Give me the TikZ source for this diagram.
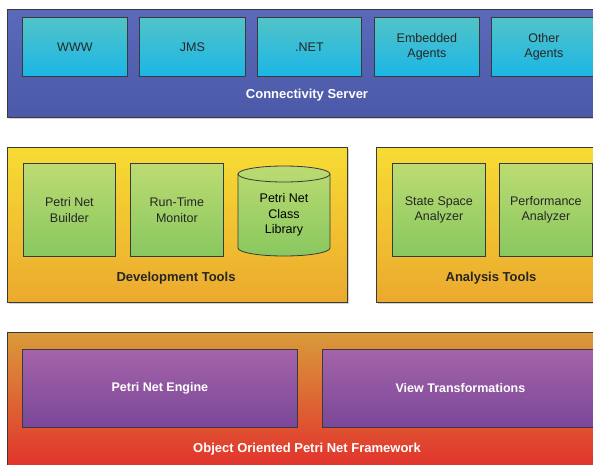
\documentclass[tikz,border=0pt]{standalone}
\usepackage{fontspec}
\setmainfont{Liberation Sans}
\usetikzlibrary{shadows}
\definecolor{bluetop}{HTML}{5A69B9}
\definecolor{bluebot}{HTML}{4B59A8}
\definecolor{cyantop}{HTML}{52C3C8}
\definecolor{cyanbot}{HTML}{1BB6E6}
\definecolor{yeltop}{HTML}{F7DC34}
\definecolor{yelbot}{HTML}{EBA92E}
\definecolor{grntop}{HTML}{BCDB72}
\definecolor{grnbot}{HTML}{88C85F}
\definecolor{redtop}{HTML}{D99B3A}
\definecolor{redbot}{HTML}{E22E2C}
\definecolor{purtop}{HTML}{A563A9}
\definecolor{purbot}{HTML}{7A4799}
\definecolor{edge}{HTML}{3A3A3A}
\tikzset{
  panel/.style={draw=edge, line width=0.8pt, rectangle, inner sep=0pt,
    drop shadow={shadow xshift=1.5pt, shadow yshift=-1.5pt, opacity=0.35}},
  inbox/.style={draw=edge, line width=0.8pt, rectangle, inner sep=0pt, align=center,
    font=\fontsize{12.5}{15.5}\selectfont},
  cyanbox/.style={inbox, top color=cyantop, bottom color=cyanbot, text=black!85},
  greenbox/.style={inbox, top color=grntop, bottom color=grnbot, text=black!85},
  purplebox/.style={inbox, top color=purtop, bottom color=purbot, text=white, font=\bfseries\fontsize{12.5}{15.5}\selectfont},
  paneltitle/.style={font=\bfseries\fontsize{13}{15}\selectfont, inner sep=0pt}
}
\begin{document}
\begin{tikzpicture}[x=1pt,y=1pt]
\useasboundingbox (0,0) rectangle (593,-464);
\fill[white] (0,0) rectangle (593,-464);
\clip (0,0) rectangle (593,-464);
% top panel
\node[panel, top color=bluetop, bottom color=bluebot, minimum width=600pt, minimum height=108pt, anchor=north west] (conn) at (7,-9) {};
\node[cyanbox, minimum width=105pt, minimum height=59pt, anchor=north west] (www) at (22,-17) {WWW};
\node[cyanbox, minimum width=106pt, minimum height=59pt, anchor=north west] (jms) at (139,-17) {JMS};
\node[cyanbox, minimum width=104pt, minimum height=59pt, anchor=north west] (net) at (257,-17) {.NET};
\node[cyanbox, minimum width=105pt, minimum height=59pt, anchor=north west] (emb) at (374,-17) {Embedded\\Agents};
\node[cyanbox, minimum width=105pt, minimum height=59pt, anchor=north west] (oth) at (491,-17) {Other\\Agents};
\node[paneltitle, text=white] (connlbl) at (307,-95) {Connectivity Server};
% development tools
\node[panel, top color=yeltop, bottom color=yelbot, minimum width=340pt, minimum height=155pt, anchor=north west] (dev) at (7,-147) {};
\node[greenbox, minimum width=92pt, minimum height=93pt, anchor=north west] (pnb) at (23,-163) {Petri Net\\Builder};
\node[greenbox, minimum width=93pt, minimum height=93pt, anchor=north west] (rtm) at (130,-163) {Run-Time\\Monitor};
\path[draw=edge, line width=0.8pt, top color=grntop, bottom color=grnbot]
  (238,-174) -- (238,-248) arc[start angle=180, end angle=360, x radius=46pt, y radius=8pt]
  -- (330,-174) arc[start angle=0, end angle=180, x radius=46pt, y radius=8pt] -- cycle;
\draw[edge, line width=0.8pt] (238,-174) arc[start angle=180, end angle=360, x radius=46pt, y radius=8pt];
\node[inbox, draw=none, inner sep=0pt] (lib) at (284,-215) {Petri Net\\Class\\Library};
\node[paneltitle, text=black!85] (devlbl) at (176,-278) {Development Tools};
% analysis tools
\node[panel, top color=yeltop, bottom color=yelbot, minimum width=230pt, minimum height=155pt, anchor=north west] (ana) at (376,-147) {};
\node[greenbox, minimum width=93pt, minimum height=93pt, anchor=north west] (ssa) at (392,-163) {State Space\\Analyzer};
\node[greenbox, minimum width=93pt, minimum height=93pt, anchor=north west] (pfa) at (499,-163) {Performance\\Analyzer};
\node[paneltitle, text=black!85] (analbl) at (491,-278) {Analysis Tools};
% framework
\node[panel, top color=redtop, bottom color=redbot, minimum width=600pt, minimum height=140pt, anchor=north west] (fw) at (7,-332) {};
\node[purplebox, minimum width=275pt, minimum height=78pt, anchor=north west] (eng) at (22,-349) {Petri Net Engine};
\node[purplebox, minimum width=276pt, minimum height=78pt, anchor=north west] (vt) at (322,-349) {View Transformations};
\node[paneltitle, text=white] (fwlbl) at (307,-449) {Object Oriented Petri Net Framework};
\end{tikzpicture}
\end{document}
